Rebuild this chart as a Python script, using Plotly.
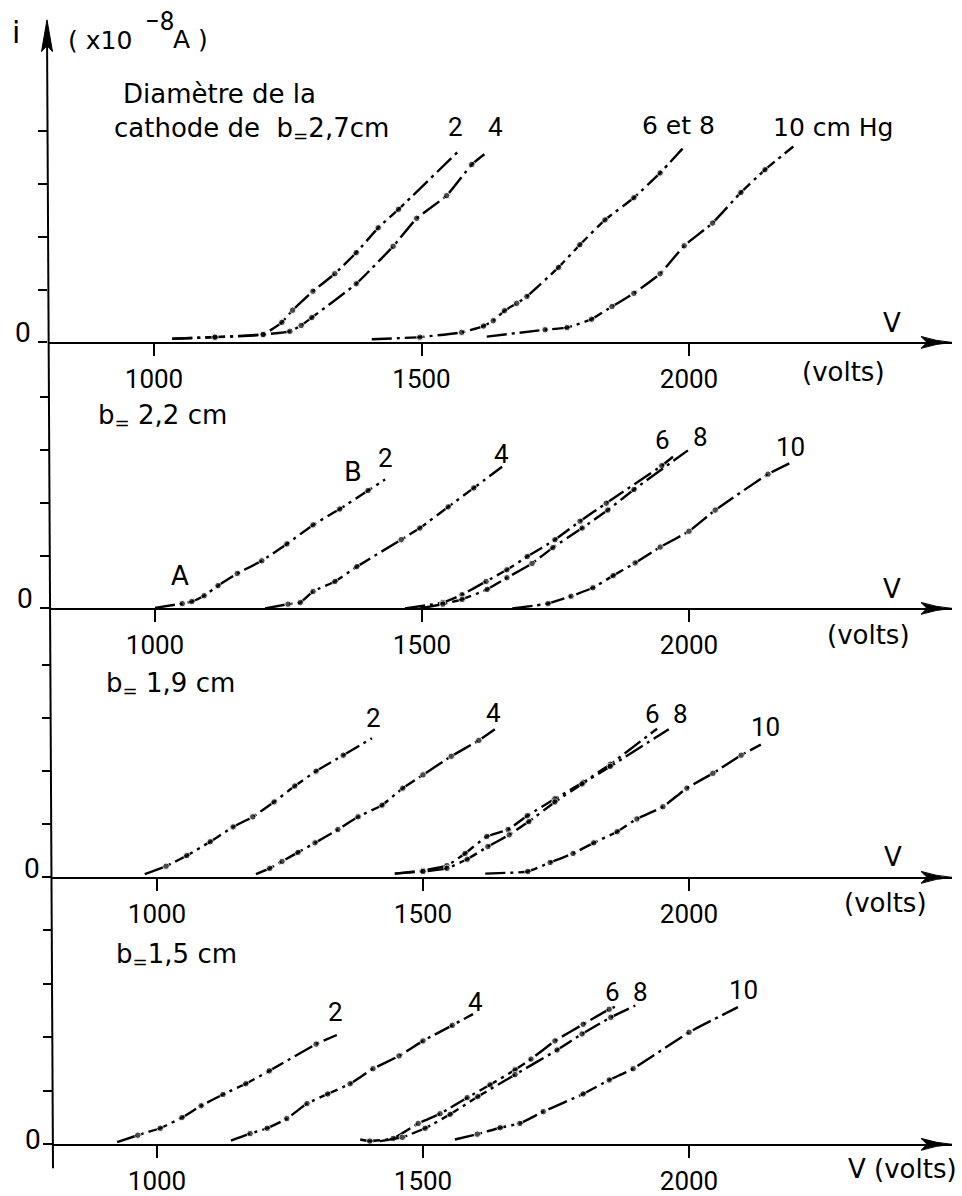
import plotly.graph_objects as go

# ---------------- data (V in volts, i in units of the y ticks) ----------------
# b = 2,7 cm
V27_2 = [1034, 1114, 1204, 1239, 1259, 1297, 1338, 1378, 1419, 1457, 1572]
I27_2 = [0.07, 0.10, 0.15, 0.38, 0.61, 0.97, 1.30, 1.70, 2.17, 2.52, 3.65]
V27_4 = [1034, 1114, 1204, 1254, 1275, 1295, 1378, 1447, 1491, 1547, 1594, 1622]
I27_4 = [0.07, 0.10, 0.15, 0.21, 0.32, 0.47, 1.11, 1.82, 2.35, 2.78, 3.37, 3.60]
V27_68 = [1407, 1497, 1575, 1616, 1634, 1655, 1678, 1697, 1756, 1796, 1843, 1897, 1946, 1988]
I27_68 = [0.06, 0.10, 0.19, 0.31, 0.41, 0.60, 0.74, 0.87, 1.42, 1.85, 2.32, 2.74, 3.21, 3.67]
V27_10 = [1622, 1731, 1772, 1818, 1856, 1897, 1946, 1991, 2044, 2097, 2142, 2195]
I27_10 = [0.11, 0.24, 0.28, 0.44, 0.68, 0.93, 1.30, 1.83, 2.26, 2.84, 3.27, 3.71]

# b = 2,2 cm
V22_2 = [1000, 1051, 1069, 1092, 1118, 1154, 1200, 1247, 1296, 1346, 1399, 1431]
I22_2 = [0.01, 0.09, 0.13, 0.24, 0.43, 0.66, 0.90, 1.22, 1.58, 1.88, 2.23, 2.44]
V22_4 = [1206, 1249, 1272, 1296, 1337, 1378, 1461, 1496, 1549, 1597, 1650]
I22_4 = [0.00, 0.08, 0.11, 0.32, 0.51, 0.79, 1.30, 1.52, 1.92, 2.28, 2.68]
V22_6 = [1468, 1539, 1575, 1620, 1659, 1697, 1749, 1796, 1845, 1949, 1970]
I22_6 = [0.00, 0.11, 0.26, 0.51, 0.73, 0.98, 1.30, 1.65, 1.99, 2.70, 2.87]
V22_8 = [1496, 1539, 1575, 1622, 1659, 1706, 1745, 1800, 1848, 1897, 1998]
I22_8 = [0.00, 0.08, 0.17, 0.36, 0.58, 0.85, 1.15, 1.52, 1.86, 2.25, 2.99]
V22_10 = [1669, 1736, 1779, 1820, 1858, 1899, 1946, 2000, 2049, 2148, 2195]
I22_10 = [0.00, 0.09, 0.23, 0.39, 0.62, 0.86, 1.16, 1.46, 1.86, 2.54, 2.78]

# b = 1,9 cm
V19_2 = [977, 1017, 1056, 1100, 1143, 1180, 1220, 1259, 1299, 1350, 1404]
I19_2 = [0.06, 0.21, 0.41, 0.67, 0.95, 1.14, 1.42, 1.72, 2.00, 2.30, 2.62]
V19_4 = [1186, 1212, 1235, 1265, 1297, 1340, 1378, 1423, 1462, 1500, 1553, 1605, 1635]
I19_4 = [0.06, 0.17, 0.30, 0.47, 0.65, 0.90, 1.14, 1.36, 1.68, 1.93, 2.28, 2.58, 2.79]
V19_6 = [1447, 1500, 1545, 1579, 1620, 1660, 1696, 1748, 1801, 1852, 1940]
I19_6 = [0.07, 0.13, 0.22, 0.45, 0.77, 0.90, 1.16, 1.48, 1.79, 2.13, 2.80]
V19_8 = [1447, 1500, 1545, 1583, 1622, 1662, 1699, 1748, 1799, 1852, 1962]
I19_8 = [0.07, 0.11, 0.17, 0.34, 0.58, 0.80, 1.05, 1.42, 1.76, 2.09, 2.79]
V19_10 = [1617, 1697, 1739, 1782, 1821, 1865, 1902, 1951, 1996, 2045, 2098, 2135]
I19_10 = [0.07, 0.11, 0.28, 0.45, 0.65, 0.86, 1.10, 1.33, 1.68, 1.96, 2.30, 2.50]

# b = 1,5 cm
V15_2 = [925, 964, 1006, 1047, 1083, 1124, 1167, 1211, 1299, 1338]
I15_2 = [0.04, 0.17, 0.30, 0.50, 0.72, 0.93, 1.13, 1.37, 1.87, 2.04]
V15_4 = [1139, 1175, 1207, 1244, 1282, 1321, 1363, 1406, 1455, 1500, 1555, 1594]
I15_4 = [0.07, 0.20, 0.30, 0.48, 0.76, 0.94, 1.13, 1.41, 1.65, 1.93, 2.22, 2.43]
V15_6 = [1382, 1400, 1444, 1491, 1532, 1583, 1626, 1673, 1703, 1748, 1801, 1850, 1867]
I15_6 = [0.09, 0.06, 0.11, 0.39, 0.57, 0.87, 1.11, 1.39, 1.59, 1.93, 2.24, 2.52, 2.59]
V15_8 = [1419, 1461, 1504, 1551, 1603, 1673, 1752, 1799, 1853, 1899]
I15_8 = [0.06, 0.13, 0.30, 0.56, 0.89, 1.30, 1.76, 2.06, 2.37, 2.59]
V15_10 = [1560, 1602, 1645, 1682, 1726, 1801, 1850, 1895, 2000, 2092]
I15_10 = [0.09, 0.19, 0.31, 0.39, 0.61, 0.94, 1.20, 1.41, 2.09, 2.56]

X_TICKS = [1000, 1500, 2000]
X_TICK_TEXT = ["1000", "1500", "2000"]
Y_TICKS = [0, 1, 2, 3, 4]

PANELS = [
    [(V27_2, I27_2), (V27_4, I27_4), (V27_68, I27_68), (V27_10, I27_10)],
    [(V22_2, I22_2), (V22_4, I22_4), (V22_6, I22_6), (V22_8, I22_8), (V22_10, I22_10)],
    [(V19_2, I19_2), (V19_4, I19_4), (V19_6, I19_6), (V19_8, I19_8), (V19_10, I19_10)],
    [(V15_2, I15_2), (V15_4, I15_4), (V15_6, I15_6), (V15_8, I15_8), (V15_10, I15_10)],
]

# ---------------- geometry ----------------
W, H = 962, 1196
ML, MR = 40, 10
PW = W - ML - MR
RIGHT_PX = 952
BASE = [345, 613, 884, 1153]
SPACING = [53.2, 53.25, 53.5, 54.0]
LEFT = [48, 50, 51.5, 53]
X1000 = [154, 155, 157, 157]
PPV = [0.535, 0.534, 0.532, 0.532]
YTOP = 4.5


def fx(p):
    return (p - ML) / PW


def fy(p):
    return (H - p) / H


FNUM = "Roboto"
FTXT = "DejaVu Sans"
FS = 26

fig = go.Figure()
layout = dict(
    width=W, height=H, paper_bgcolor="white", plot_bgcolor="white",
    margin=dict(l=ML, r=MR, t=0, b=0), showlegend=False,
    font=dict(family=FNUM, size=FS, color="black"),
)
shapes = []

for k, curves in enumerate(PANELS):
    n = k + 1
    xa = "x" if n == 1 else f"x{n}"
    ya = "y" if n == 1 else f"y{n}"
    top_px = BASE[k] - YTOP * SPACING[k]
    vl = 1000 + (LEFT[k] - X1000[k]) / PPV[k]
    vr = 1000 + (RIGHT_PX - X1000[k]) / PPV[k]
    layout[f"xaxis{'' if n == 1 else n}"] = dict(
        domain=[fx(LEFT[k]), fx(RIGHT_PX)], range=[vl, vr], anchor=ya,
        showline=True, linewidth=2, linecolor="black", showgrid=False, zeroline=False,
        ticks="outside", ticklen=12, tickwidth=1.6, tickcolor="black",
        tickvals=X_TICKS, ticktext=X_TICK_TEXT, ticklabelstandoff=0,
        tickfont=dict(family=FNUM, size=FS, color="black"), fixedrange=True,
    )
    layout[f"yaxis{'' if n == 1 else n}"] = dict(
        domain=[fy(BASE[k]), fy(top_px)], range=[0, YTOP], anchor=xa,
        showline=False, showgrid=False, zeroline=False,
        ticks="outside", ticklen=9, tickwidth=1.6, tickcolor="black",
        tickvals=Y_TICKS, showticklabels=False, fixedrange=True,
    )
    for v, i in curves:
        sizes = [0] + [6.5] * (len(v) - 2) + [0]
        fig.add_trace(go.Scatter(
            x=v, y=i, xaxis=xa, yaxis=ya, mode="lines+markers",
            line=dict(color="black", width=2.4, shape="spline", smoothing=0.35,
                      dash="20px,5px,3px,5px"),
            marker=dict(color="black", size=sizes), cliponaxis=False,
            hoverinfo="skip",
        ))
    # arrowhead on the horizontal axis
    b = BASE[k]
    path = (f"M {fx(952)},{fy(b)} Q {fx(936)},{fy(b - 1.2)} {fx(921)},{fy(b - 6)} "
            f"L {fx(927)},{fy(b)} L {fx(921)},{fy(b + 6)} "
            f"Q {fx(936)},{fy(b + 1.2)} {fx(952)},{fy(b)} Z")
    shapes.append(dict(type="path", xref="paper", yref="paper", path=path,
                       fillcolor="black", line=dict(color="black", width=1)))

# vertical axis (shared)
shapes.append(dict(type="line", xref="paper", yref="paper",
                   x0=fx(47), y0=fy(30), x1=fx(53), y1=fy(1177),
                   line=dict(color="black", width=2)))
shapes.append(dict(type="path", xref="paper", yref="paper",
                   path=(f"M {fx(47)},{fy(20)} L {fx(41.5)},{fy(52)} L {fx(47)},{fy(46)} "
                         f"L {fx(52.5)},{fy(52)} Z"),
                   fillcolor="black", line=dict(color="black", width=1)))

annots = []


def txt(t, x, y, size=FS, xanchor="center", family=FTXT):
    annots.append(dict(text=t, x=fx(x), y=fy(y), xref="paper", yref="paper",
                       showarrow=False, xanchor=xanchor, yanchor="middle",
                       font=dict(family=family, size=size, color="black")))


def num(t, x, y, size=FS, xanchor="center"):
    txt(t, x, y, size=size, xanchor=xanchor, family=FNUM)


NB = "\u00a0"

# axis title
txt("i", 16, 33, size=30)
txt("(" + NB + "x10", 66, 41, size=25, xanchor="left")
num("\u22128", 159, 21, size=26)
txt("A" + NB + ")", 171, 40, size=25, xanchor="left")

# panel 1
txt("Diamètre de la", 121, 95, xanchor="left")
txt("cathode de" + NB + " b<sub>=</sub>2,7cm", 112, 130, xanchor="left")
num("2", 455, 128)
num("4", 495, 128)
txt("6 et 8", 678, 126, size=25)
txt("10 cm Hg", 833, 128, size=25)
txt("V", 892, 325)
txt("(volts)", 843, 375)
num("0", 23, 335, size=28)

# panel 2
txt("b<sub>=</sub>" + NB + "2,2 cm", 96, 420, xanchor="left")
txt("B", 353, 476)
num("2", 385, 461)
txt("A", 180, 580)
num("4", 502, 457)
num("6", 662, 443)
num("8", 700, 440)
num("10", 790, 450)
txt("V", 892, 593)
txt("(volts)", 868, 640)
num("0", 25, 603, size=28)

# panel 3
txt("b<sub>=</sub>" + NB + "1,9 cm", 104, 690, xanchor="left")
num("2", 373, 723)
num("4", 493, 718)
num("6", 652, 719)
num("8", 680, 719)
num("10", 765, 733)
txt("V", 893, 863)
txt("(volts)", 885, 910)
num("0", 32, 875, size=28)

# panel 4
txt("b<sub>=</sub>1,5 cm", 114, 963, xanchor="left")
num("2", 335, 1020)
num("4", 475, 1010)
num("6", 612, 1000)
num("8", 640, 1000)
num("10", 743, 998)
txt("V (volts)", 902, 1178)
num("0", 33, 1148, size=28)

layout["shapes"] = shapes
layout["annotations"] = annots
fig.update_layout(**layout)
fig.write_html("out.html", config={"displayModeBar": False},
               post_script="document.body.style.margin='0px';")
